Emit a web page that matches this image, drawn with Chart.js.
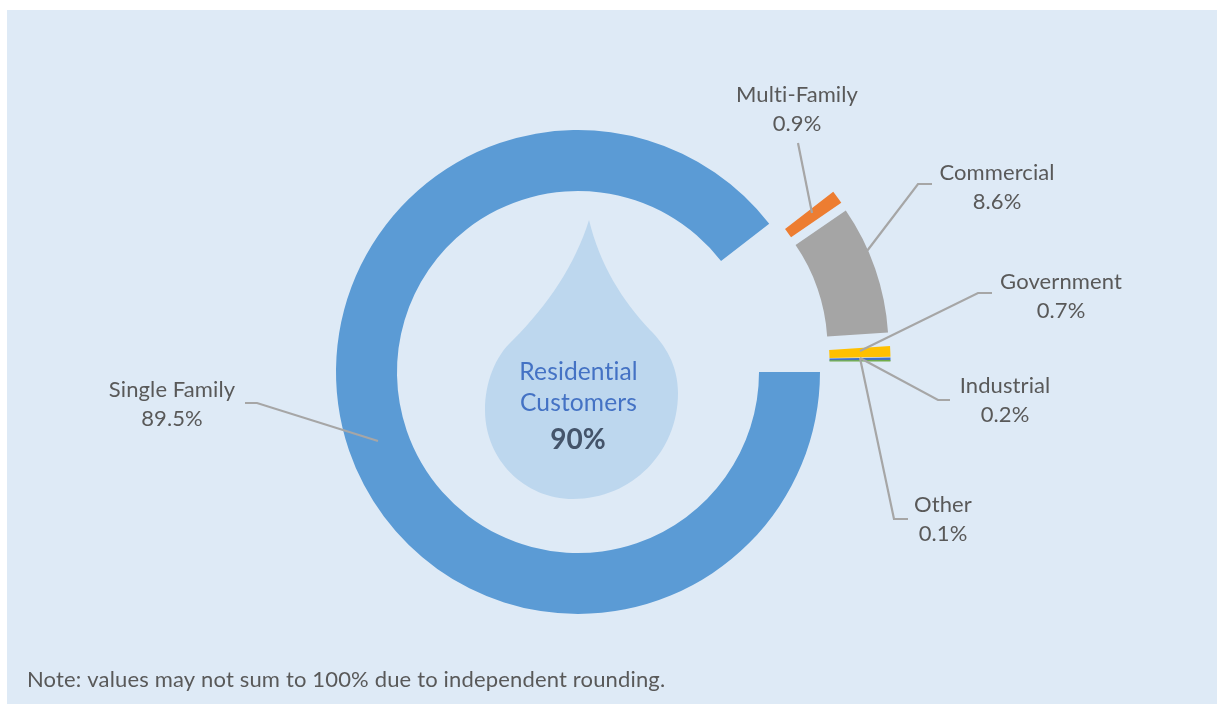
<!DOCTYPE html>
<html>
<head>
<meta charset="utf-8">
<title>Customers</title>
<script src="https://cdn.jsdelivr.net/npm/chart.js@4"></script>
<style>
  html, body { margin: 0; padding: 0; background: #fff; }
  canvas { display: block; }
</style>
</head>
<body>
<canvas id="chart" width="1217" height="704"></canvas>
<script>
const categories = ['Single Family', 'Multi-Family', 'Commercial', 'Government', 'Industrial', 'Other'];
const shares = [89.5, 0.9, 8.6, 0.7, 0.2, 0.1];
const colors = ['#5B9BD5', '#ED7D31', '#A5A5A5', '#FFC000', '#4472C4', '#70AD47'];

const FONT = 'Lato, sans-serif';
const textColor = '#595959';

// how far each slice is pulled out of the ring, dx and dy in px
const pulls = [[0, 0], [64, -32], [68.5, -24.2], [70.5, -10.7], [70.5, -10], [70.5, -10.5]];

// callouts: label centre x, first line y, then the leader line points
const callouts = [
  { x: 172, y: 390, line: [[245, 403], [257, 403], [378, 441]] },
  { x: 797, y: 95, line: [[798, 143], [812, 213]] },
  { x: 997, y: 173, line: [[932, 184], [918, 184], [867, 251]] },
  { x: 1061, y: 282, line: [[992, 293], [978, 293], [860, 351]] },
  { x: 1005, y: 386, line: [[950, 400], [938, 400], [860, 358]] },
  { x: 943, y: 505, line: [[908, 519], [894, 519], [860, 358]] },
];

// the built-in offset option also grows and narrows the arc, so move the arc whole
class PulledDoughnut extends Chart.DoughnutController {
  draw() {
    const c = this.chart.ctx;
    this._cachedMeta.data.forEach((arc, i) => {
      c.save();
      c.translate(pulls[i][0], pulls[i][1]);
      arc.draw(c);
      c.restore();
    });
  }
}
PulledDoughnut.id = 'pulledDoughnut';
Chart.register(PulledDoughnut);

const backdrop = {
  id: 'backdrop',
  beforeDraw(chart) {
    const c = chart.ctx;
    c.save();
    c.fillStyle = '#DEEAF6';
    c.fillRect(7, 10, 1210, 694);

    // water drop behind the centre text
    c.fillStyle = '#BDD7EE';
    c.beginPath();
    c.moveTo(589, 220);
    c.bezierCurveTo(575, 265, 548, 305, 513, 340);
    c.bezierCurveTo(495, 356, 485, 383, 485, 410);
    c.bezierCurveTo(485, 460, 525, 499, 573, 499);
    c.bezierCurveTo(632, 499, 678, 452, 678, 393);
    c.bezierCurveTo(678, 365, 665, 345, 650, 330);
    c.bezierCurveTo(622, 300, 600, 265, 589, 220);
    c.closePath();
    c.fill();
    c.restore();
  }
};

const callout = {
  id: 'callout',
  afterDraw(chart) {
    const c = chart.ctx;
    c.save();
    c.textAlign = 'center';
    c.textBaseline = 'middle';

    // leader lines
    c.strokeStyle = '#A6A6A6';
    c.lineWidth = 2.2;
    callouts.forEach(o => {
      c.beginPath();
      o.line.forEach((p, i) => i ? c.lineTo(p[0], p[1]) : c.moveTo(p[0], p[1]));
      c.stroke();
    });

    // slice labels, the spacing also stops Lato's "ti" ligature
    c.letterSpacing = '0.1px';
    c.font = '22px ' + FONT;
    c.fillStyle = textColor;
    callouts.forEach((o, i) => {
      c.fillText(categories[i], o.x, o.y);
      c.fillText(shares[i].toFixed(1) + '%', o.x, o.y + 29);
    });

    // centre text
    c.fillStyle = '#4472C4';
    c.font = '24.6px ' + FONT;
    c.fillText('Residential', 578.5, 372);
    c.fillText('Customers', 578.5, 403);
    c.fillStyle = '#44546A';
    c.font = 'bold 28px ' + FONT;
    c.fillText('90%', 578, 440);

    c.textAlign = 'left';
    c.fillStyle = textColor;
    c.letterSpacing = '0.16px';
    c.font = '22px ' + FONT;
    c.fillText('Note: values may not sum to 100% due to independent rounding.', 27, 680);
    c.restore();
  }
};

new Chart(document.getElementById('chart'), {
  type: 'pulledDoughnut',
  data: {
    labels: categories,
    datasets: [{
      data: shares,
      backgroundColor: colors,
      borderWidth: 0,
    }],
  },
  options: {
    responsive: false,
    animation: false,
    events: [],
    rotation: 90,
    radius: 242,
    cutout: '74.8%',
    layout: { padding: { left: 0, right: 61, top: 40, bottom: 0 } },
    plugins: {
      legend: { display: false },
      tooltip: { enabled: false },
    },
  },
  plugins: [backdrop, callout],
});
</script>
</body>
</html>
